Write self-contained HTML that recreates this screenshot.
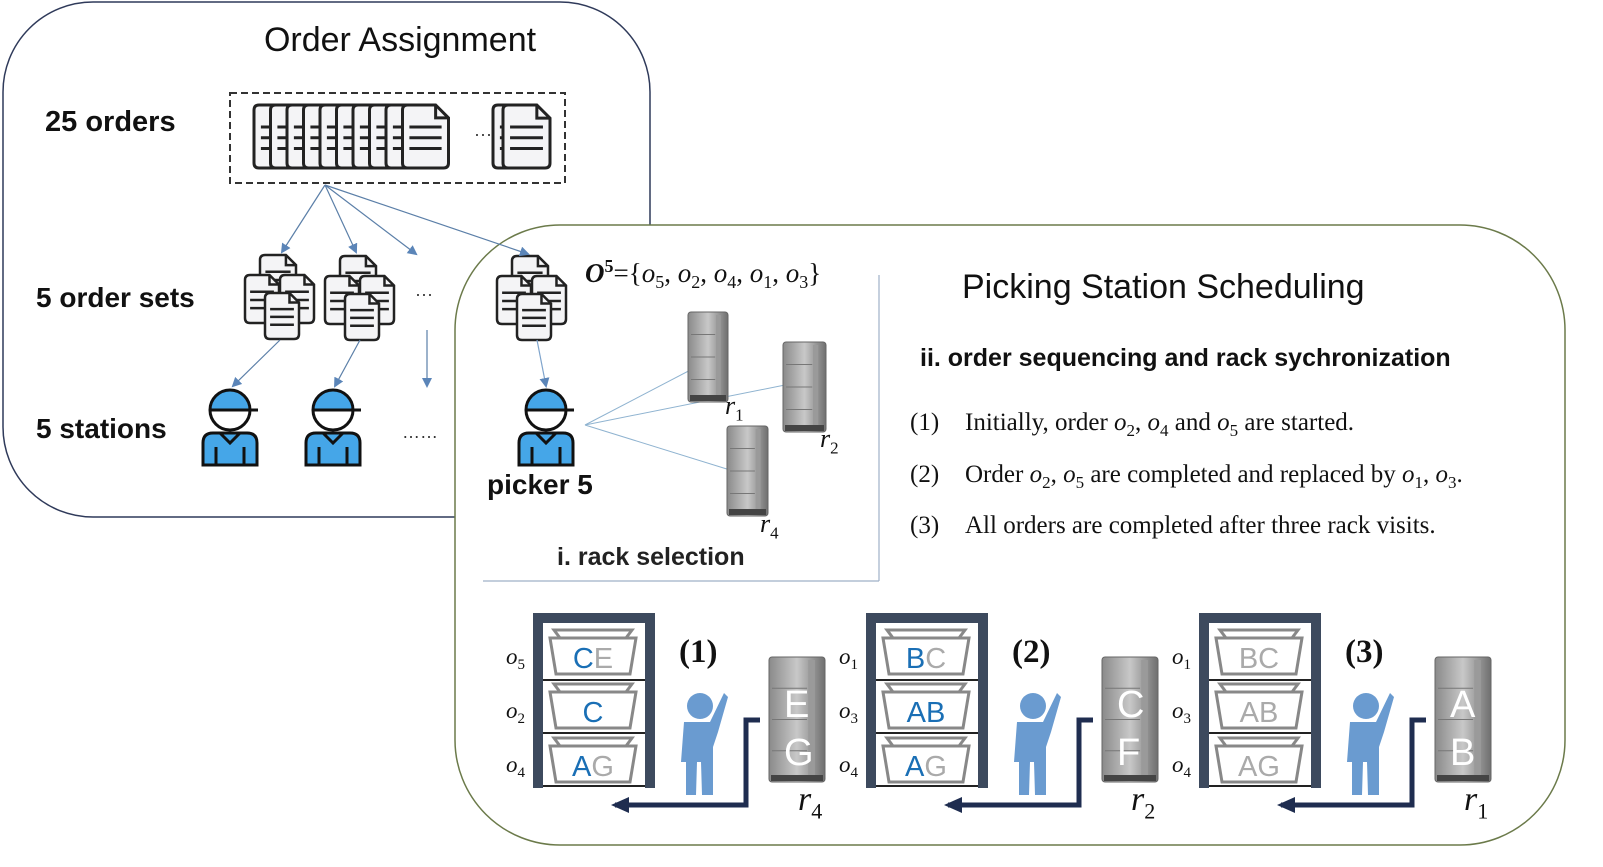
<!DOCTYPE html>
<html><head><meta charset="utf-8"><style>
html,body{margin:0;padding:0;background:#fff}
svg{display:block}
.s{font-family:"Liberation Sans","DejaVu Sans",sans-serif}
.r{font-family:"Liberation Serif","DejaVu Serif",serif}
</style></head><body>
<svg id="g" width="1603" height="867" viewBox="0 0 1603 867" xmlns="http://www.w3.org/2000/svg">
<defs>
<marker id="ah" markerWidth="10" markerHeight="10" refX="8" refY="5" orient="auto" markerUnits="userSpaceOnUse"><path d="M0,0 L10,5 L0,10 z" fill="#5b85b8"/></marker>
<marker id="ak" markerWidth="18" markerHeight="16" refX="14" refY="8" orient="auto" markerUnits="userSpaceOnUse"><path d="M0,0 L18,8 L0,16 z" fill="#1f2d50"/></marker>
<linearGradient id="rk" x1="0" x2="1"><stop offset="0" stop-color="#8a8a8a"/><stop offset="0.5" stop-color="#c8c8c8"/><stop offset="1" stop-color="#6f6f6f"/></linearGradient>
</defs>
<rect x="3" y="2" width="647" height="515" rx="90" fill="#fff" stroke="#2f3a5a" stroke-width="1.5"/>
<text x="400" y="51" class="s" font-size="34" text-anchor="middle" fill="#111">Order Assignment</text>
<text x="45" y="131" class="s" font-size="29" font-weight="bold" fill="#111">25 orders</text>
<text x="36" y="307" class="s" font-size="28" font-weight="bold" fill="#111">5 order sets</text>
<text x="36" y="438" class="s" font-size="28" font-weight="bold" fill="#111">5 stations</text>
<rect x="230" y="93" width="335" height="90" fill="none" stroke="#333" stroke-width="2" stroke-dasharray="7,4"/>
<text x="474" y="140" class="s" font-size="18" fill="#333">···</text>
<text x="415" y="300" class="s" font-size="18" fill="#333">···</text>
<text x="402" y="438" class="s" font-size="18" fill="#333">……</text>

<rect x="455" y="225" width="1110" height="620" rx="105" fill="#fff" stroke="#6b7a4a" stroke-width="1.5"/>
<g id="docs"></g>
<g stroke="#5b7fa8" stroke-width="1.2" marker-end="url(#ah)">
<line x1="325" y1="185" x2="282" y2="252"/><line x1="325" y1="185" x2="356" y2="252"/>
<line x1="325" y1="185" x2="416" y2="254"/><line x1="325" y1="185" x2="528" y2="254"/>
<line x1="280" y1="340" x2="233" y2="386"/><line x1="360" y1="340" x2="335" y2="386"/>
<line x1="427" y1="330" x2="427" y2="386"/>
</g>
<line x1="879" y1="275" x2="879" y2="581" stroke="#9fb0c8" stroke-width="1.2"/>
<line x1="483" y1="581" x2="879" y2="581" stroke="#9fb0c8" stroke-width="1.2"/>
<line x1="537" y1="340" x2="546" y2="386" stroke="#7fa4cc" stroke-width="1.2" marker-end="url(#ah)"/>
<text x="962" y="298" class="s" font-size="34" fill="#111">Picking Station Scheduling</text>
<text x="920" y="366" class="s" font-size="25" font-weight="bold" fill="#111">ii. order sequencing and rack sychronization</text>
<g class="r" font-size="25" fill="#111">
<text x="910" y="430">(1)<tspan x="965">Initially, order <tspan font-style="italic">o</tspan><tspan font-size="17" dy="6">2</tspan><tspan dy="-6">, </tspan><tspan font-style="italic">o</tspan><tspan font-size="17" dy="6">4</tspan><tspan dy="-6"> and </tspan><tspan font-style="italic">o</tspan><tspan font-size="17" dy="6">5</tspan><tspan dy="-6"> are started.</tspan></tspan></text>
<text x="910" y="482">(2)<tspan x="965">Order <tspan font-style="italic">o</tspan><tspan font-size="17" dy="6">2</tspan><tspan dy="-6">, </tspan><tspan font-style="italic">o</tspan><tspan font-size="17" dy="6">5</tspan><tspan dy="-6"> are completed and replaced by </tspan><tspan font-style="italic">o</tspan><tspan font-size="17" dy="6">1</tspan><tspan dy="-6">, </tspan><tspan font-style="italic">o</tspan><tspan font-size="17" dy="6">3</tspan><tspan dy="-6">.</tspan></tspan></text>
<text x="910" y="533">(3)<tspan x="965">All orders are completed after three rack visits.</tspan></text>
</g>
<text x="585" y="282" class="r" font-size="27" fill="#111"><tspan font-weight="bold" font-style="italic">O</tspan><tspan font-size="18" dy="-10" font-weight="bold">5</tspan><tspan dy="10">={</tspan><tspan font-style="italic">o</tspan><tspan font-size="18" dy="6">5</tspan><tspan dy="-6">, </tspan><tspan font-style="italic">o</tspan><tspan font-size="18" dy="6">2</tspan><tspan dy="-6">, </tspan><tspan font-style="italic">o</tspan><tspan font-size="18" dy="6">4</tspan><tspan dy="-6">, </tspan><tspan font-style="italic">o</tspan><tspan font-size="18" dy="6">1</tspan><tspan dy="-6">, </tspan><tspan font-style="italic">o</tspan><tspan font-size="18" dy="6">3</tspan><tspan dy="-6">}</tspan></text>
<g stroke="#8fb3d0" stroke-width="1">
<line x1="585" y1="425" x2="700" y2="365"/><line x1="585" y1="425" x2="785" y2="385"/><line x1="585" y1="425" x2="730" y2="470"/>
</g>
<g id="dyn"></g>
<text x="487" y="494" class="s" font-size="28" font-weight="bold" fill="#111">picker 5</text>
<text x="557" y="565" class="s" font-size="25" font-weight="bold" fill="#222">i. rack selection</text>
</svg>
<script>
var docs=document.getElementById('docs'),dyn=document.getElementById('dyn');
function doc(x,y,w,h,sw){var f=w*0.28;var s='<path d="M'+(x+5)+','+y+' L'+(x+w-f)+','+y+' L'+(x+w)+','+(y+f)+' L'+(x+w)+','+(y+h-5)+' Q'+(x+w)+','+(y+h)+' '+(x+w-5)+','+(y+h)+' L'+(x+5)+','+(y+h)+' Q'+x+','+(y+h)+' '+x+','+(y+h-5)+' L'+x+','+(y+5)+' Q'+x+','+y+' '+(x+5)+','+y+' z" fill="#f4f4f6" stroke="#222" stroke-width="'+sw+'"/>';
s+='<path d="M'+(x+w-f)+','+y+' L'+(x+w-f)+','+(y+f)+' L'+(x+w)+','+(y+f)+'" fill="none" stroke="#222" stroke-width="'+sw+'"/>';
for(var i=0;i<3;i++){var ly=y+h*0.35+i*h*0.17;s+='<line x1="'+(x+w*0.15)+'" y1="'+ly+'" x2="'+(x+w*0.85)+'" y2="'+ly+'" stroke="#222" stroke-width="'+sw+'"/>';}
return s;}
var s='';
for(var i=0;i<10;i++){s+=doc(254+i*16.5,105,46,63,3);}
s+=doc(493,105,46,63,3);s+=doc(503,105,47,63,3);
function set3(x,y){return doc(x+15,y,36,48,2.5)+doc(x+35,y+20,34,48,2.5)+doc(x,y+20,34,48,2.5)+doc(x+20,y+38,34,46,2.5);}
s+=set3(245,255)+set3(325,256)+set3(497,256);
docs.innerHTML=s;
function picker(cx,top){var t='';
t+='<path d="M'+(cx-20)+','+(top+20)+' A20,20 0 0 1 '+(cx+20)+','+(top+20)+' z" fill="#45a6e8"/>';
t+='<circle cx="'+cx+'" cy="'+(top+20)+'" r="20" fill="none" stroke="#111" stroke-width="3"/>';
t+='<line x1="'+(cx-20)+'" y1="'+(top+20)+'" x2="'+(cx+28)+'" y2="'+(top+20)+'" stroke="#111" stroke-width="3"/>';
var b=top+43;t+='<path d="M'+(cx-27)+','+(b+32)+' L'+(cx-27)+','+(b+10)+' Q'+(cx-27)+','+b+' '+(cx-17)+','+b+' L'+(cx+17)+','+b+' Q'+(cx+27)+','+b+' '+(cx+27)+','+(b+10)+' L'+(cx+27)+','+(b+32)+' z" fill="#45a6e8" stroke="#111" stroke-width="3"/>';
t+='<path d="M'+(cx-10)+','+b+' L'+cx+','+(b+10)+' L'+(cx+10)+','+b+'" fill="none" stroke="#111" stroke-width="3"/>';
t+='<line x1="'+(cx-14)+'" y1="'+(b+14)+'" x2="'+(cx-14)+'" y2="'+(b+32)+'" stroke="#111" stroke-width="3"/><line x1="'+(cx+14)+'" y1="'+(b+14)+'" x2="'+(cx+14)+'" y2="'+(b+32)+'" stroke="#111" stroke-width="3"/>';
return t;}
var d='';
d+=picker(230,390)+picker(333,390)+picker(546,390);
function rack(x,y,w,h){var t='<rect x="'+x+'" y="'+y+'" width="'+w+'" height="'+h+'" rx="3" fill="url(#rk)" stroke="#666" stroke-width="1"/>';
t+='<rect x="'+(x+w*0.7)+'" y="'+(y+3)+'" width="'+(w*0.12)+'" height="'+(h-8)+'" fill="#9a9a9a"/>';
for(var i=1;i<4;i++){t+='<line x1="'+(x+3)+'" y1="'+(y+h*i/4)+'" x2="'+(x+w*0.68)+'" y2="'+(y+h*i/4)+'" stroke="#777" stroke-width="1"/>';}
t+='<rect x="'+(x+2)+'" y="'+(y+h-7)+'" width="'+(w-4)+'" height="6" fill="#444"/>';return t;}
d+=rack(688,312,40,90)+rack(783,342,43,90)+rack(727,426,41,90);
function rl(x,y,n,fs){return '<text x="'+x+'" y="'+y+'" class="r" font-size="'+fs+'" font-style="italic" fill="#111">r<tspan font-size="'+(fs*0.65)+'" font-style="normal" dy="'+(fs*0.25)+'">'+n+'</tspan></text>';}
d+=rl(725,414,1,26)+rl(820,447,2,26)+rl(760,532,4,26);
function bin(x,y,txt){var t='<path d="M'+(x+14)+','+(y+11)+' L'+(x+8)+','+(y+3)+' L'+(x+86)+','+(y+3)+' L'+(x+80)+','+(y+11)+'" fill="none" stroke="#888" stroke-width="3"/>';
t+='<path d="M'+(x+4)+','+(y+11)+' L'+(x+90)+','+(y+11)+' L'+(x+84)+','+(y+47)+' L'+(x+10)+','+(y+47)+' z" fill="#fff" stroke="#888" stroke-width="3"/>';
t+='<text x="'+(x+47)+'" y="'+(y+41)+'" class="s" font-size="29" text-anchor="middle">'+txt+'</text>';return t;}
var B='<tspan fill="#1a6fb5">',G='<tspan fill="#aaa">',E='</tspan>';
var panels=[
 {x:533,ol:['5','2','4'],bins:[B+'C'+E+G+'E'+E,B+'C'+E,B+'A'+E+G+'G'+E],lab:'(1)',rk:['E','G'],rn:4},
 {x:866,ol:['1','3','4'],bins:[B+'B'+E+G+'C'+E,B+'AB'+E,B+'A'+E+G+'G'+E],lab:'(2)',rk:['C','F'],rn:2},
 {x:1199,ol:['1','3','4'],bins:[G+'BC'+E,G+'AB'+E,G+'AG'+E],lab:'(3)',rk:['A','B'],rn:1}];
panels.forEach(function(p){var x=p.x;
 d+='<rect x="'+x+'" y="613" width="122" height="175" fill="#3d4a5e"/><rect x="'+(x+10)+'" y="623" width="102" height="165" fill="#fff"/>';
 [680,733,786].forEach(function(yy){d+='<line x1="'+(x+10)+'" y1="'+yy+'" x2="'+(x+112)+'" y2="'+yy+'" stroke="#222" stroke-width="2"/>';});
 d+=bin(x+13,627,p.bins[0])+bin(x+13,681,p.bins[1])+bin(x+13,735,p.bins[2]);
 [664,718,772].forEach(function(yy,i){d+='<text x="'+(x-27)+'" y="'+yy+'" class="r" font-size="23" font-style="italic" fill="#111">o<tspan font-size="15" font-style="normal" dy="5">'+p.ol[i]+'</tspan></text>';});
 d+='<text x="'+(x+146)+'" y="662" class="r" font-size="33" font-weight="bold" fill="#111">'+p.lab+'</text>';
 var px=x+167;
 d+='<circle cx="'+px+'" cy="706" r="13" fill="#6a9bd0"/><path d="M'+(px-16)+',722 L'+(px+10)+',722 L'+(px+24)+',693 L'+(px+28)+',697 L'+(px+18)+',732 L'+(px+13)+',747 L'+(px+13)+',795 L'+(px+2)+',795 L'+(px+1)+',762 L'+(px-3)+',762 L'+(px-4)+',795 L'+(px-14)+',795 L'+(px-14)+',762 L'+(px-19)+',762 z" fill="#6a9bd0"/>';
 d+='<path d="M'+(x+227)+',720 L'+(x+213)+',720 L'+(x+213)+',805 L'+(x+82)+',805" fill="none" stroke="#1f2d50" stroke-width="5" marker-end="url(#ak)"/>';
 d+=rack(x+236,657,56,125);
 d+='<text x="'+(x+251)+'" y="717" class="s" font-size="38" fill="#fff">'+p.rk[0]+'</text><text x="'+(x+251)+'" y="765" class="s" font-size="38" fill="#fff">'+p.rk[1]+'</text>';
 d+=rl(x+265,810,p.rn,34);
});
dyn.innerHTML=d;
</script>
</body></html>
